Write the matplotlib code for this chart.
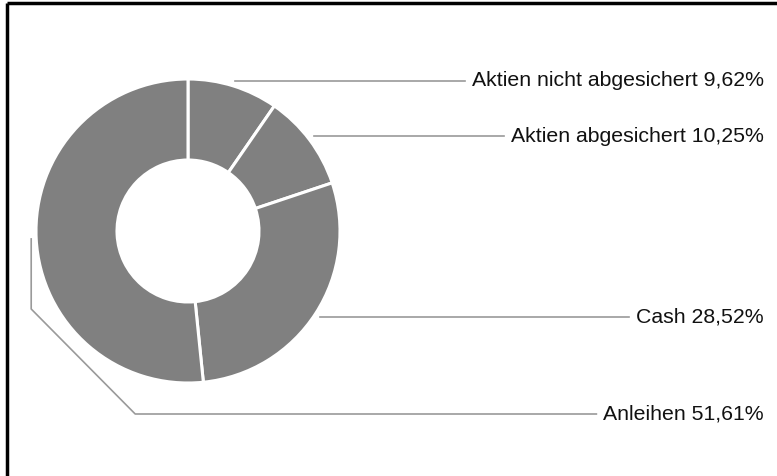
import numpy as np
import matplotlib.pyplot as plt

labels = ['Aktien nicht abgesichert', 'Aktien abgesichert', 'Cash', 'Anleihen']
values = [9.62, 10.25, 28.52, 51.61]

W, H = 777, 477
cx, cy = 188, H - 232
r_out, r_in = 152, 71

fig = plt.figure(figsize=(W / 100, H / 100), dpi=100)
ax = fig.add_axes([0, 0, 1, 1])

wedges, _ = ax.pie(values, startangle=90, counterclock=False, center=(cx, cy),
                   radius=r_out, colors=['#808080'] * len(values), frame=True,
                   wedgeprops=dict(width=r_out - r_in, edgecolor='white', linewidth=2.2))
ax.set_xlim(0, W)
ax.set_ylim(0, H)
ax.axis('off')

# border (top + left only)
ax.plot([7, W], [H - 4, H - 4], color='black', lw=2.5, solid_capstyle='butt')
ax.plot([7, 7], [0, H - 4], color='black', lw=2.5, solid_capstyle='butt')

# label rows (y from top, pixels)
label_y = [81.5, 137, 318, 415]
text_right = 764

fig.canvas.draw()
renderer = fig.canvas.get_renderer()

for i, w in enumerate(wedges):
    mid = np.deg2rad((w.theta1 + w.theta2) / 2)
    sx = cx + (r_out + 5) * np.cos(mid)
    sy = cy + (r_out + 5) * np.sin(mid)
    ly = H - label_y[i]
    txt = ax.text(text_right, ly - 4.5, f"{labels[i]} {values[i]:.2f}%".replace('.', ','),
                  ha='right', va='baseline', fontsize=15.3, family='Liberation Sans',
                  color='#111111')
    bb = txt.get_window_extent(renderer)
    x_end = bb.x0 - 7
    if i < 3:
        xs = [sx, x_end]
        ys = [ly, ly]
    else:
        # routed leader for the big left slice
        xs = [sx, sx, sx + 104, x_end]
        ys = [sy, H - 310, ly, ly]
    ax.plot(xs, ys, color='#9a9a9a', lw=1.2)

fig.savefig('out.png', dpi=100)
